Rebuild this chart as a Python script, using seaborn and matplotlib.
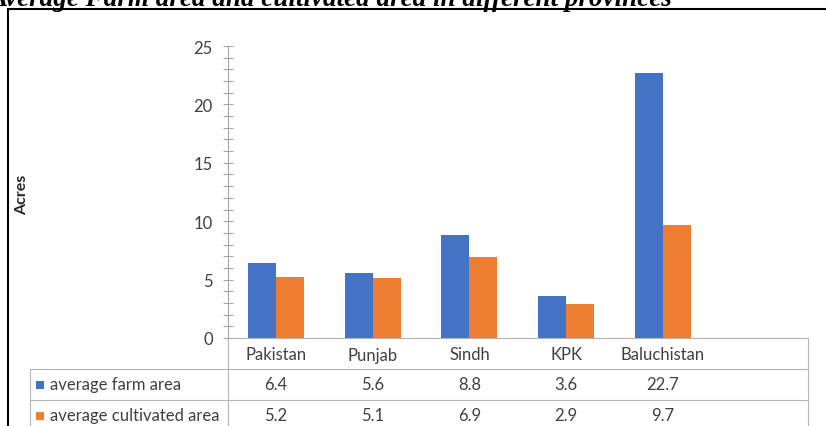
import matplotlib
matplotlib.use("Agg")
import matplotlib.pyplot as plt
import matplotlib.transforms as mtransforms
from matplotlib.lines import Line2D
from matplotlib.patches import Rectangle
from matplotlib.ticker import MultipleLocator
import pandas as pd
import seaborn as sns

# ---- data -------------------------------------------------------------
regions = ["Pakistan", "Punjab", "Sindh", "KPK", "Baluchistan"]
farm_area = [6.4, 5.6, 8.8, 3.6, 22.7]
cultivated_area = [5.2, 5.1, 6.9, 2.9, 9.7]
series_names = ["average farm area", "average cultivated area"]
series_colors = ["#4472C4", "#ED7D31"]
y_ticks = [0, 5, 10, 15, 20, 25]
title = "Average Farm area and cultivated area in different provinces"
y_label = "Acres"

# ---- layout helpers (pixel positions -> figure fractions) ---------------
W, H = 826, 427
sns.set_theme(style="white")
plt.rcParams["font.family"] = ["Lato", "DejaVu Sans"]


def fx(px):
    return px / W


def fy(py):
    return 1 - py / H


text_color = "#404040"
grid_color = "#b4b4b4"
label_size = 12

df = pd.DataFrame({
    "region": regions * 2,
    "series": [series_names[0]] * len(regions) + [series_names[1]] * len(regions),
    "acres": farm_area + cultivated_area,
})

fig = plt.figure(figsize=(W / 100, H / 100), dpi=100)

ax_left, ax_right, ax_top, ax_bottom = 227.5, 808, 47, 339
ax = fig.add_axes([fx(ax_left), fy(ax_bottom),
                   fx(ax_right - ax_left), (ax_bottom - ax_top) / H])

sns.barplot(data=df, x="region", y="acres", hue="series", order=regions,
            hue_order=series_names, palette=series_colors, saturation=1,
            width=0.58, gap=0, linewidth=0, errorbar=None, legend=False, ax=ax)

# one spare category slot on the right, as in the workbook chart
ax.set_xlim(-0.5, len(regions) + 0.5)
ax.set_ylim(0, 25)
ax.set_yticks(y_ticks)
ax.yaxis.set_minor_locator(MultipleLocator(1))
ax.tick_params(axis="y", which="both", left=True, direction="inout",
               length=7, width=0.8, color="#a6a6a6")
ax.tick_params(axis="y", which="major", labelsize=label_size,
               labelcolor=text_color, pad=7)
ax.set_xticks([])
ax.set_xlabel("")
ax.set_ylabel("")
for side in ("top", "right"):
    ax.spines[side].set_visible(False)
ax.spines["left"].set_color("#a6a6a6")
ax.spines["left"].set_linewidth(0.8)
ax.spines["bottom"].set_color(grid_color)
ax.spines["bottom"].set_linewidth(0.8)

# ---- data table under the axis ----------------------------------------
def fig_line(xs, ys):
    fig.add_artist(Line2D([fx(x) for x in xs], [fy(y) for y in ys],
                          transform=fig.transFigure, color=grid_color, lw=0.8))


row_tops = [339, 370, 401, 432]
for y in row_tops[1:]:
    fig_line([30, ax_right], [y, y])
fig_line([30, 30], [370, 440])
fig_line([ax_left, ax_left], [339, 440])
fig_line([ax_right, ax_right], [339, 440])

blend = mtransforms.blended_transform_factory(ax.transData, fig.transFigure)
row_centers = [(a + b) / 2 for a, b in zip(row_tops[:-1], row_tops[1:])]

for i, name in enumerate(regions):
    ax.text(i, fy(row_centers[0] + 1), name, transform=blend, ha="center",
            va="center", fontsize=label_size, color=text_color, clip_on=False)

for values, yc in ((farm_area, row_centers[1]), (cultivated_area, row_centers[2])):
    for i, v in enumerate(values):
        ax.text(i, fy(yc), f"{v:.1f}", transform=blend, ha="center",
                va="center", fontsize=label_size, color=text_color, clip_on=False)

for name, color, yc in zip(series_names, series_colors, row_centers[1:]):
    fig.add_artist(Rectangle((fx(36), fy(yc + 4)), fx(8), 8 / H,
                             transform=fig.transFigure, color=color, lw=0))
    fig.text(fx(50), fy(yc), name, ha="left", va="center",
             fontsize=label_size, color=text_color)

# ---- axis title, chart title and frame ---------------------------------
fig.text(fx(22), fy(195), y_label, rotation=90, ha="center", va="center",
         fontsize=11.5, weight="bold", color="#262626")

fig.text(fx(672), fy(6), title, ha="right", va="baseline",
         family="Liberation Serif", weight="bold", style="italic",
         fontsize=19.5, color="black")

fig.add_artist(Rectangle((fx(8), fy(445)), fx(840), (445 - 10) / H,
                         transform=fig.transFigure, fill=False,
                         ec="black", lw=1.5))

fig.savefig("out.png", dpi=100)
